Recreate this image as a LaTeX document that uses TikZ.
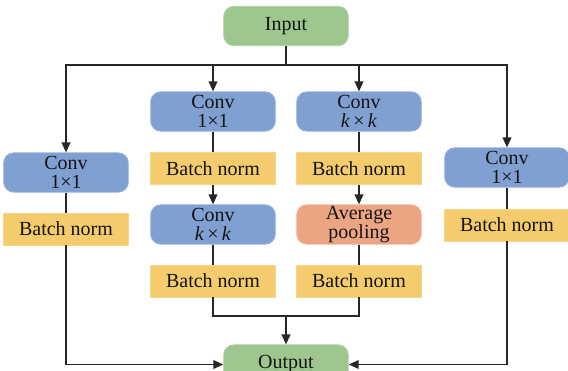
\documentclass[tikz,border=0pt]{standalone}
\usepackage{fontspec}
\setmainfont{Liberation Serif}
\usetikzlibrary{calc,positioning,arrows.meta}
\definecolor{IOGreen}{HTML}{9DC78E}
\definecolor{ConvBlue}{HTML}{7FA0D0}
\definecolor{NormYellow}{HTML}{F4CC6E}
\definecolor{PoolOrange}{HTML}{EBA582}
\definecolor{LineDark}{HTML}{262626}

\begin{document}
\begin{tikzpicture}[
    x=0.75pt, y=-0.75pt,
    every node/.style={font=\fontsize{15}{14.2}\selectfont, text=black!92, align=center, inner sep=0pt},
    roundbox/.style={rounded corners=7.5pt, minimum width=93.5pt, minimum height=29.5pt},
    convbox/.style={roundbox, fill=ConvBlue, draw=ConvBlue!80!white, line width=0.6pt},
    poolbox/.style={roundbox, fill=PoolOrange, draw=PoolOrange!80!white, line width=0.6pt},
    iobox/.style={roundbox, fill=IOGreen, draw=IOGreen!80!white, line width=0.6pt},
    bnbox/.style={fill=NormYellow, draw=NormYellow!80!white, line width=0.6pt, minimum width=93.5pt, minimum height=24pt},
    link/.style={draw=LineDark, line width=1.2pt},
    flow/.style={link, -{Triangle[length=7.5pt,width=6.5pt]}}
  ]
  \useasboundingbox (0,0) rectangle (568,371);

  % input and output
  \node[iobox] (input) at (286,26) {Input};
  \node[iobox] (output) at (286,364.5) {Output};

  % branch 1: left
  \node[convbox] (lconv) at (66,172.5) {Conv\\1×1};
  \node[bnbox] (lbn) at (66,229) {Batch norm};

  % branch 2
  \node[convbox] (bconv) at (213,111.5) {Conv\\1×1};
  \node[bnbox] (bbn) at (213,168.5) {Batch norm};
  \node[convbox] (bconvk) at (213,224.5) {Conv\\\textit{k}\,×\,\textit{k}};
  \node[bnbox] (bbnk) at (213,281) {Batch norm};

  % branch 3
  \node[convbox] (cconvk) at (359,111.5) {Conv\\\textit{k}\,×\,\textit{k}};
  \node[bnbox] (cbn) at (359,168.5) {Batch norm};
  \node[poolbox] (cpool) at (359,224.5) {Average\\pooling};
  \node[bnbox] (cbnp) at (359,281) {Batch norm};

  % branch 4: right
  \node[convbox] (rconv) at (507,167.5) {Conv\\1×1};
  \node[bnbox] (rbn) at (507,225) {Batch norm};

  \coordinate (split) at (286,65);
  \coordinate (merge) at (286,316);

  % fan out
  \draw[link] (input) -- (split);
  \draw[flow] (split) -| (lconv);
  \draw[flow] (split) -| (bconv);
  \draw[flow] (split) -| (cconvk);
  \draw[flow] (split) -| (rconv);

  % inside the branches
  \draw[link] (lconv) -- (lbn);
  \draw[link] (bconv) -- (bbn);
  \draw[flow] (bbn) -- (bconvk);
  \draw[link] (bconvk) -- (bbnk);
  \draw[link] (cconvk) -- (cbn);
  \draw[flow] (cbn) -- (cpool);
  \draw[link] (cpool) -- (cbnp);
  \draw[link] (rconv) -- (rbn);

  % fan in
  \draw[link] (bbnk) |- (merge);
  \draw[link] (cbnp) |- (merge);
  \draw[flow] (merge) -- (output);
  \draw[flow] (lbn) |- (output);
  \draw[flow] (rbn) |- (output);
\end{tikzpicture}
\end{document}
